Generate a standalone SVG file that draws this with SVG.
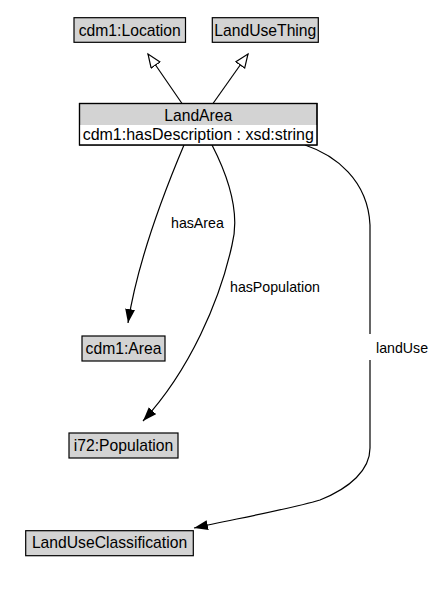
<svg xmlns="http://www.w3.org/2000/svg" width="440" height="594" viewBox="0 0 440 594">
<style>
.box{fill:#d3d3d3;stroke:#000;stroke-width:1.2}
.body{fill:#fff;stroke:none}
.nt{font-family:"Liberation Sans",Arial,sans-serif;font-size:15.7px;fill:#000;text-anchor:middle}
.el{font-family:"Liberation Sans",Arial,sans-serif;font-size:14.2px;fill:#000}
.edge{fill:none;stroke:#000;stroke-width:1.2}
</style>
<defs>
<marker id="filled" markerUnits="userSpaceOnUse" markerWidth="16" markerHeight="12" refX="14" refY="5" orient="auto">
<path d="M0,0 L14,5 L0,10 z" fill="#000"/>
</marker>
<marker id="hollow" markerUnits="userSpaceOnUse" markerWidth="16" markerHeight="14" refX="14" refY="6" orient="auto">
<path d="M0.6,0.6 L14,6 L0.6,11.4 z" fill="#fff" stroke="#000" stroke-width="1.2"/>
</marker>
</defs>
<rect width="440" height="594" fill="#fff"/>
<g id="connectors">
<line class="edge" x1="182" y1="103.5" x2="148" y2="54" marker-end="url(#hollow)"/>
<line class="edge" x1="213" y1="103.5" x2="248" y2="54" marker-end="url(#hollow)"/>
<path class="edge" d="M184,145 C165,190 138,258 128,323" marker-end="url(#filled)"/>
<text class="el" x="171" y="228">hasArea</text>
<path class="edge" d="M212,145 C230,180 240,215 232,245 C220,300 190,370 143,421" marker-end="url(#filled)"/>
<text class="el" x="230" y="292">hasPopulation</text>
<path class="edge" d="M305,145 C335,155 368,180 370,225 L370,334 M370,360 L370,448 C370,470 350,488 320,500 C290,509 240,518 194,528" marker-end="url(#filled)"/>
<text class="el" x="376" y="353">landUse</text>
</g>
<g id="node-location">
<rect class="box" x="74" y="17.7" width="111.5" height="24.6"/>
<text class="nt" x="129.75" y="35.5">cdm1:Location</text>
</g>
<g id="node-landusething">
<rect class="box" x="212.3" y="17.7" width="106" height="24.6"/>
<text class="nt" x="265.3" y="35.5">LandUseThing</text>
</g>
<g id="node-landarea">
<rect class="box" x="79.5" y="103.5" width="237.5" height="41.5"/>
<rect class="body" x="80.1" y="125" width="236.3" height="19.4"/>
<rect x="79.5" y="103.5" width="237.5" height="41.5" fill="none" stroke="#000" stroke-width="1.2"/>
<text class="nt" x="198.25" y="120.5">LandArea</text>
<text class="nt" x="198.25" y="140" style="font-size:16px">cdm1:hasDescription : xsd:string</text>
</g>
<g id="node-area">
<rect class="box" x="82" y="336" width="83" height="25"/>
<text class="nt" x="123.5" y="354">cdm1:Area</text>
</g>
<g id="node-population">
<rect class="box" x="69" y="433" width="109" height="25"/>
<text class="nt" x="123.5" y="451">i72:Population</text>
</g>
<g id="node-landuseclassification">
<rect class="box" x="25.7" y="530.7" width="167.6" height="25"/>
<text class="nt" x="109.5" y="548">LandUseClassification</text>
</g>
</svg>
